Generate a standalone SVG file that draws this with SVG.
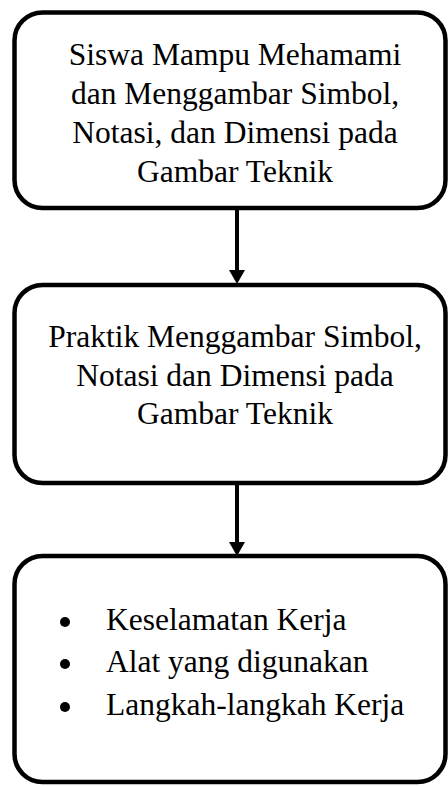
<svg xmlns="http://www.w3.org/2000/svg" width="448" height="786" viewBox="0 0 448 786">
<style>
.box{fill:#fff;stroke:#000;stroke-width:4.5}
.t{font-family:"Liberation Serif","Times New Roman",serif;font-size:31.5px;fill:#000}
.c{text-anchor:middle}
.conn line{stroke:#000;stroke-width:4}
.conn polygon{fill:#000}
</style>
<rect width="448" height="786" fill="#fff"/>
<g id="node1">
<rect class="box" x="14.5" y="12.5" width="431" height="195.5" rx="28" ry="28"/>
<text class="t c" x="235" y="65">Siswa Mampu Mehamami</text>
<text class="t c" x="235" y="104">dan Menggambar Simbol,</text>
<text class="t c" x="235" y="143">Notasi, dan Dimensi pada</text>
<text class="t c" x="235" y="182">Gambar Teknik</text>
</g>
<g id="node2">
<rect class="box" x="14.5" y="285" width="431" height="198" rx="28" ry="28"/>
<text class="t c" x="235" y="347">Praktik Menggambar Simbol,</text>
<text class="t c" x="235" y="386">Notasi dan Dimensi pada</text>
<text class="t c" x="235" y="424">Gambar Teknik</text>
</g>
<g id="node3">
<rect class="box" x="14.5" y="556" width="431" height="226" rx="28" ry="28"/>
<circle cx="65" cy="622" r="5"/>
<circle cx="65" cy="664" r="5"/>
<circle cx="65" cy="707" r="5"/>
<text class="t" x="106" y="630">Keselamatan Kerja</text>
<text class="t" x="106" y="672">Alat yang digunakan</text>
<text class="t" x="106" y="715">Langkah-langkah Kerja</text>
</g>
<g id="connectors" class="conn">
<line x1="237" y1="210" x2="237" y2="272"/>
<polygon points="229,270 245,270 237,284"/>
<line x1="237" y1="485" x2="237" y2="545"/>
<polygon points="229,542 245,542 237,556"/>
</g>
</svg>
